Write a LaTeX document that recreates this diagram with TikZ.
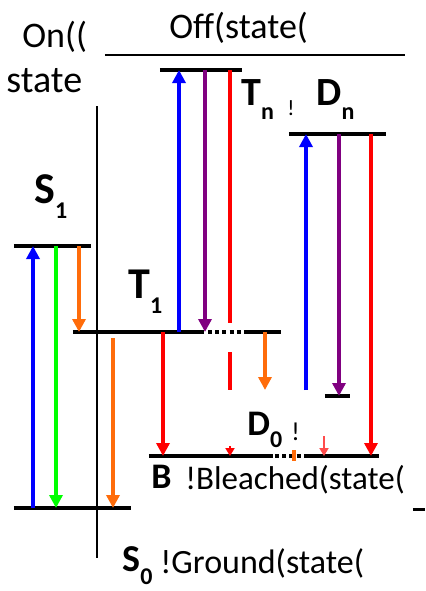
\documentclass[tikz,border=0pt]{standalone}
\usepackage{fontspec}
\setmainfont{Carlito}
\usetikzlibrary{arrows.meta}
\definecolor{pblue}{RGB}{0,0,255}
\definecolor{pgreen}{RGB}{0,255,0}
\definecolor{porange}{RGB}{255,108,10}
\definecolor{pred}{RGB}{255,0,0}
\definecolor{ppurple}{RGB}{128,0,128}
% bold level name with lowered subscript
\newcommand{\lvl}[3]{{\fontsize{#1}{#1}\selectfont\bfseries #2\raisebox{-0.36em}{\fontsize{12}{12}\selectfont #3}}}

\begin{document}
\begin{tikzpicture}[x=0.5pt,y=-0.5pt,
  level/.style={line width=2.2pt},
  dotlevel/.style={line width=2.2pt,dash pattern=on 2pt off 1.6pt},
  arr/.style={line width=1.8pt,-{Triangle[width=6.5pt,length=6.5pt]}},
  tiny/.style={line width=0.9pt,-{Triangle[width=4.5pt,length=4pt]}},
  txt/.style={inner sep=0pt,anchor=base west}]
\useasboundingbox (0,0) rectangle (425,591);

% On / Off division
\draw[line width=0.8pt] (97,106) -- (97,558);
\draw[line width=0.8pt] (105,55) -- (405,55);
\node[txt,font=\fontsize{18}{18}\selectfont] (on) at (22,47) {On((};
\node[txt,font=\fontsize{19}{19}\selectfont] (onstate) at (6,92) {state};
\node[txt,font=\fontsize{18}{18}\selectfont] (off) at (169,38) {Off(state(};

% Energy levels
\draw[level] (14,508) coordinate (S0) -- (131,508);
\draw[level] (14,246) coordinate (S1) -- (91,246);
\draw[level] (73,332) coordinate (T1) -- (204,332);
\draw[dotlevel] (208,332) -- (246,332);
\draw[level] (246,332) -- (281,332);
\draw[level] (160,70) coordinate (Tn) -- (242,70);
\draw[level] (289,134) coordinate (Dn) -- (386,134);
\draw[level] (325,396) coordinate (Dlow) -- (350,396);
\draw[level] (149,456) coordinate (B) -- (273,456);
\draw[dotlevel] (275,456) -- (308,456);
\draw[level] (308,456) -- (379,456);
\draw[line width=1.5pt] (413,509) -- (425,509);

% Labels
\node[txt] (lS1) at (34,203) {\lvl{22}{S}{1}};
\node[txt] (lT1) at (128,298) {\lvl{22}{T}{1}};
\node[txt] (lTn) at (241,105) {\lvl{20}{T}{n}};
\node[txt,font=\fontsize{11}{11}\selectfont] (bang1) at (287,115) {!};
\node[txt] (lDn) at (316,105) {\lvl{20}{D}{n}};
\node[txt] (lD0) at (247,435) {\lvl{18}{D}{0}};
\node[txt,font=\fontsize{13}{13}\selectfont] (bang2) at (291,440) {!};
\node[txt,font=\fontsize{18}{18}\selectfont\bfseries] (lB) at (151,488) {B};
\node[txt,font=\fontsize{16.5}{16.5}\selectfont] (bleached) at (185,489) {!Bleached(state(};
\node[txt] (lS0) at (122,571) {\lvl{19}{S}{0}};
\node[txt,font=\fontsize{17}{17}\selectfont] (ground) at (160,573) {!Ground(state(};

% Transitions in the on state
\draw[arr,pblue] (33,0 |- S0) -- (33,0 |- S1);
\draw[arr,pgreen] (56,0 |- S1) -- (56,0 |- S0);
\draw[arr,porange] (79,0 |- S1) -- (79,0 |- T1);

% Transitions in the off state
\coordinate (orStart) at (113,338);
\draw[arr,porange] (orStart) -- (113,0 |- S0);
\draw[arr,pred] (163,0 |- T1) -- (163,0 |- B);
\draw[arr,pblue] (179,0 |- T1) -- (179,0 |- Tn);
\draw[arr,ppurple] (205,0 |- Tn) -- (205,0 |- T1);
\draw[line width=1.8pt,pred] (230,0 |- Tn) -- (230,323);
\draw[line width=1.8pt,pred] (230,352) -- (230,390);
\coordinate (redTip) at (230,446);
\draw[tiny,pred] (redTip) -- (230,0 |- B);
\coordinate (orEnd) at (265,390);
\draw[arr,porange] (265,0 |- T1) -- (orEnd);
\coordinate (blStart) at (306,390);
\draw[arr,pblue] (blStart) -- (306,0 |- Dn);
\draw[arr,ppurple] (339,0 |- Dn) -- (339,0 |- Dlow);
\draw[arr,pred] (371,0 |- Dn) -- (371,0 |- B);
\coordinate (redTip2) at (324,436);
\draw[tiny,pred!70] (redTip2) -- (324,0 |- B);
\draw[line width=2pt,porange] (294,450) -- (294,461);
\end{tikzpicture}
\end{document}
